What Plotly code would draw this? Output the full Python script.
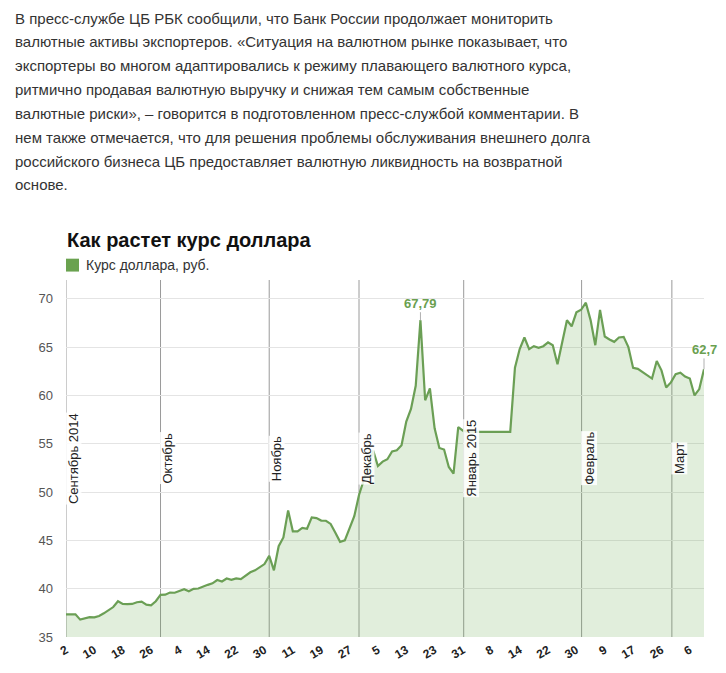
import plotly.graph_objects as go

# ---------------- data ----------------
rate = [
    37.35, 37.38, 37.35, 36.80, 36.92, 37.05, 37.04, 37.18, 37.45, 37.80,
    38.10, 38.70, 38.42, 38.41, 38.42, 38.60, 38.66, 38.35, 38.27, 38.70,
    39.37, 39.38, 39.60, 39.58, 39.80, 39.95, 39.73, 39.99, 40.02, 40.23,
    40.40, 40.56, 40.90, 40.74, 41.05, 40.91, 41.07, 41.00, 41.40, 41.70,
    41.90, 42.20, 42.55, 43.40, 41.90, 44.40, 45.30, 48.10, 45.94, 45.94,
    46.30, 46.20, 47.38, 47.31, 47.05, 47.03, 46.70, 45.80, 44.85, 45.00,
    46.20, 47.50, 49.70, 51.30, 52.90, 54.30, 52.70, 53.15, 53.40, 54.20,
    54.32, 54.84, 57.30, 58.60, 61.00, 67.79, 59.50, 60.73, 56.60, 54.56,
    54.40, 52.60, 51.90, 56.72, 56.35, 56.24, 56.24, 56.24, 56.24, 56.24,
    56.24, 56.24, 56.24, 56.24, 56.24, 62.88, 64.80, 66.00, 64.80, 65.10,
    64.94, 65.10, 65.50, 65.20, 63.22, 65.50, 67.78, 67.16, 68.60, 68.87,
    69.60, 67.80, 65.20, 68.85, 66.10, 65.80, 65.55, 66.00, 66.06, 65.00,
    62.85, 62.75, 62.40, 62.05, 61.75, 63.56, 62.60, 60.83, 61.35, 62.20,
    62.35, 61.95, 61.75, 60.00, 60.66, 62.70,
]
day_index = list(range(len(rate)))

tick_labels = ["2", "10", "18", "26", "4", "14", "22", "30", "11", "19", "27",
               "5", "13", "23", "31", "8", "14", "22", "30", "9", "17", "26", "6"]
tick_positions = [6 * k for k in range(len(tick_labels))]

month_names = ["Сентябрь 2014", "Октябрь", "Ноябрь", "Декабрь",
               "Январь 2015", "Февраль", "Март"]
month_starts = [0, 20, 43, 62, 84.15, 109.1, 128.2]

peak_label = "67,79"
last_label = "62,7"

title_text = "Как растет курс доллара"
series_name = "Курс доллара, руб."

paragraph = [
    "В пресс-службе ЦБ РБК сообщили, что Банк России продолжает мониторить",
    "валютные активы экспортеров. «Ситуация на валютном рынке показывает, что",
    "экспортеры во многом адаптировались к режиму плавающего валютного курса,",
    "ритмично продавая валютную выручку и снижая тем самым собственные",
    "валютные риски», – говорится в подготовленном пресс-службой комментарии. В",
    "нем также отмечается, что для решения проблемы обслуживания внешнего долга",
    "российского бизнеса ЦБ предоставляет валютную ликвидность на возвратной",
    "основе.",
]

# ---------------- layout geometry ----------------
W, H = 726, 673
L, R, T, B = 66, 22, 280, 33
PW, PH = W - L - R, H - T - B


def px_x(px):
    return (px - L) / PW


def px_y(py):
    return (H - B - py) / PH


GREEN = "#6aa24f"
LINE = "#6b9f55"

fig = go.Figure()
fig.add_trace(go.Scatter(
    x=day_index, y=rate, mode="lines",
    line=dict(color=LINE, width=2.2),
    fill="tozeroy", fillcolor="rgba(106,168,79,0.2)",
    hoverinfo="y", showlegend=False,
))

shapes = []
for pos in month_starts:
    shapes.append(dict(type="line", xref="x", yref="paper", x0=pos, x1=pos,
                       y0=0, y1=1, line=dict(color="#9a9a9a", width=1),
                       layer="below"))
# legend square
shapes.append(dict(type="rect", xref="paper", yref="paper",
                   x0=px_x(66), x1=px_x(79), y0=px_y(271.5), y1=px_y(258.5),
                   fillcolor=GREEN, line=dict(width=0)))

annotations = []
for pos, name in zip(month_starts, month_names):
    annotations.append(dict(x=pos, y=53.47, xref="x", yref="y", text=name,
                            textangle=-90, showarrow=False, xshift=7.5,
                            font=dict(family="Liberation Sans, Arial", size=13, color="#222"),
                            bgcolor="rgba(255,255,255,0.85)", borderpad=0))

annotations.append(dict(x=day_index[rate.index(max(rate[:100]))], y=max(rate[:100]),
                        xref="x", yref="y", text=peak_label,
                        showarrow=True, arrowhead=0, arrowwidth=1, arrowcolor="#b0b0b0",
                        ax=0, ay=-17,
                        font=dict(family="Liberation Sans, Arial", size=13, color="#6a9f50", weight="bold")))
annotations.append(dict(x=day_index[-1], y=rate[-1], xref="x", yref="y", text=last_label,
                        showarrow=True, arrowhead=0, arrowwidth=1, arrowcolor="#b0b0b0",
                        ax=0, ay=-20,
                        font=dict(family="Liberation Sans, Arial", size=13, color="#6a9f50", weight="bold")))

annotations.append(dict(x=px_x(65), y=px_y(240), xref="paper", yref="paper",
                        text=title_text, showarrow=False, xanchor="left", yanchor="middle",
                        font=dict(family="Liberation Sans, Arial", size=20, color="#111", weight="bold")))
annotations.append(dict(x=px_x(84), y=px_y(265), xref="paper", yref="paper",
                        text=series_name, showarrow=False, xanchor="left", yanchor="middle",
                        font=dict(family="Liberation Sans, Arial", size=14, color="#333")))

for k, line in enumerate(paragraph):
    annotations.append(dict(x=px_x(13), y=px_y(16 + 24 * k), xref="paper", yref="paper",
                            text=line, showarrow=False, xanchor="left", yanchor="middle",
                            font=dict(family="Liberation Sans Narrow, Arial Narrow, sans-serif",
                                      size=15, color="#333")))

fig.update_layout(
    width=W, height=H,
    margin=dict(l=L, r=R, t=T, b=B, pad=0),
    paper_bgcolor="white", plot_bgcolor="white",
    shapes=shapes, annotations=annotations,
    xaxis=dict(range=[0, len(rate) - 1], tickmode="array",
               tickvals=tick_positions, ticktext=tick_labels,
               tickangle=-30, showgrid=False, zeroline=False, showline=False,
               ticks="", ticklabelstandoff=3,
               tickfont=dict(family="Liberation Sans, Arial", size=12, color="#222", weight="bold")),
    yaxis=dict(range=[35, 71.95], tickvals=[35, 40, 45, 50, 55, 60, 65, 70],
               showgrid=True, gridcolor="#e4e4e4", gridwidth=1, zeroline=False,
               showline=False, ticks="", ticklabelstandoff=12,
               tickfont=dict(family="Liberation Sans, Arial", size=13, color="#555")),
)

fig.write_html("out.html")
